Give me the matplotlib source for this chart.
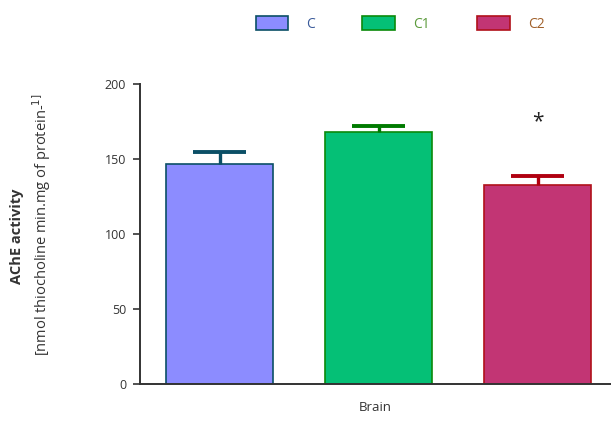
import numpy as np
import matplotlib
matplotlib.use("Agg")
import matplotlib.pyplot as plt

# Data
groups = ["C", "C1", "C2"]
means = [147, 168, 133]
errs = [8, 4, 6]
xlabel = "Brain"
yticks = [0, 50, 100, 150, 200]
star_y = 175

# Styles
fills = ["#8C8CFF", "#05C076", "#C23574"]
edges = ["#0B4F66", "#0A8A0A", "#B0101A"]
err_cols = ["#0B4F66", "#007A00", "#B00010"]
label_cols = ["#3A5A9A", "#5A9A3A", "#A0602A"]

plt.rcParams['font.family'] = ['Open Sans', 'DejaVu Sans']

fig = plt.figure(figsize=(6.11, 4.24), dpi=100)
ax = fig.add_axes([140/611, 1 - 384/424, 471/611, 300/424])

x = np.arange(len(groups))
bars = ax.bar(x, means, width=0.673, color=fills, edgecolor=edges, linewidth=1.2,
              label=groups, zorder=2)
# upper error bars only
tops = np.array(means) + np.array(errs)
ax.vlines(x, means, tops, colors=err_cols, linewidth=2.4, zorder=3)
ax.hlines(tops, x - 0.167, x + 0.167, colors=err_cols, linewidth=2.8, zorder=3)

# significance marker
ax.text(x[2], star_y, "*", ha="center", va="center", fontsize=15, color="#222222")

ax.set_xlim(-0.5, 2.462)
ax.set_ylim(0, 200)
ax.set_yticks(yticks)
ax.set_xticks([])
ax.tick_params(axis="y", length=5, width=1.2, color="#333333", labelsize=9,
               labelcolor="#333333", pad=5)
for s in ["top", "right"]:
    ax.spines[s].set_visible(False)
for s in ["left", "bottom"]:
    ax.spines[s].set_linewidth(1.4)
    ax.spines[s].set_color("#333333")

ax.set_xlabel(xlabel, fontsize=9.5, color="#333333", labelpad=12)
fig.text(17/611, 1 - 236/424, "AChE activity", rotation=90, ha="center", va="center",
         fontsize=10.5, fontweight="bold", color="#333333")
fig.text(42/611, 1 - 225/424, "[nmol thiocholine min.mg of protein-$^{1]}$", rotation=90,
         ha="center", va="center", fontsize=10.5, color="#333333")

leg = ax.legend(handles=bars.patches, labels=groups, ncol=3, loc="center",
                bbox_to_anchor=(400/611, 1 - 24/424), bbox_transform=fig.transFigure,
                frameon=False, handlelength=2.35, handleheight=1.2, columnspacing=3.4,
                handletextpad=1.3, fontsize=10)
for t, c in zip(leg.get_texts(), label_cols):
    t.set_color(c)

fig.savefig("out.png", dpi=100)
